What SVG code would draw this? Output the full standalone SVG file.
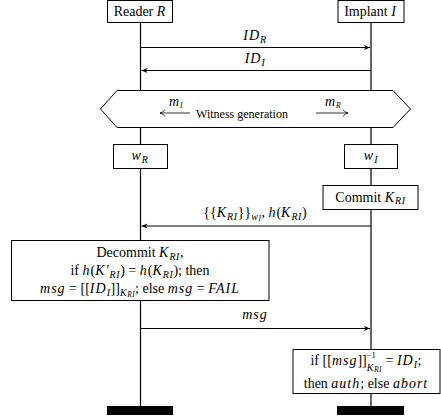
<svg xmlns="http://www.w3.org/2000/svg" width="441" height="419" viewBox="0 0 441 419">
  <style>
    .t { font-family: "Liberation Serif", "Times New Roman", serif; font-size: 14px; fill: #000; }
    .i { font-style: italic; letter-spacing: 1px; }
    .s { font-size: 10px; font-style: italic; letter-spacing: 0.6px; }
    .ss { font-size: 7.5px; font-style: italic; letter-spacing: 0.4px; }
    .sup { font-size: 8.5px; }
    .box { fill: #fff; stroke: #000; stroke-width: 1; }
    .life { stroke: #000; stroke-width: 1.2; fill: none; }
    .msg { stroke: #000; stroke-width: 1; fill: none; marker-end: url(#head); }
    .bar { fill: #000; }
  </style>
  <defs>
    <marker id="head" markerWidth="7" markerHeight="6" refX="6" refY="3" orient="auto" markerUnits="userSpaceOnUse">
      <path d="M0,0.5 L6,3 L0,5.5 L1.6,3 Z" fill="#000"/>
    </marker>
    <marker id="hook" markerWidth="7" markerHeight="8" refX="6" refY="4" orient="auto" markerUnits="userSpaceOnUse">
      <path d="M1,0.8 Q3.5,3.4 6,4 Q3.5,4.6 1,7.2" fill="none" stroke="#000" stroke-width="0.8"/>
    </marker>
  </defs>

  <!-- lifelines -->
  <g id="lifelines">
    <line class="life" x1="140.5" y1="23" x2="140.5" y2="406"/>
    <line class="life" x1="371" y1="23" x2="371" y2="406"/>
  </g>

  <!-- messages -->
  <g id="connectors">
    <line class="msg" x1="140.5" y1="47.5" x2="370" y2="47.5"/>
    <line class="msg" x1="371" y1="70.5" x2="141.5" y2="70.5"/>
    <line class="msg" x1="371" y1="226" x2="141.5" y2="226"/>
    <line class="msg" x1="140.5" y1="328.5" x2="370" y2="328.5"/>
  </g>

  <g id="labels">
    <text class="t" x="255" y="40" text-anchor="middle"><tspan class="i">ID</tspan><tspan class="s" dy="2.5">R</tspan></text>
    <text class="t" x="255" y="63" text-anchor="middle"><tspan class="i">ID</tspan><tspan class="s" dy="2.5">I</tspan></text>
    <text class="t" x="255" y="217" text-anchor="middle">{{<tspan class="i">K</tspan><tspan class="s" dy="2.5">RI</tspan><tspan dy="-2.5">}}</tspan><tspan class="s" dy="2.5">w</tspan><tspan class="ss" dy="1.5">I</tspan><tspan dy="-4">, </tspan><tspan class="i">h</tspan>(<tspan class="i">K</tspan><tspan class="s" dy="2.5">RI</tspan><tspan dy="-2.5">)</tspan></text>
    <text class="t i" x="255" y="319" text-anchor="middle">msg</text>
  </g>

  <!-- participants -->
  <g id="reader">
    <rect class="box" x="107.5" y="0.5" width="65" height="22"/>
    <text class="t" x="140" y="16" text-anchor="middle">Reader <tspan class="i">R</tspan></text>
  </g>
  <g id="implant">
    <rect class="box" x="338" y="0.5" width="66" height="22"/>
    <text class="t" x="370.5" y="16" text-anchor="middle">Implant <tspan class="i">I</tspan></text>
  </g>

  <!-- shared witness generation step -->
  <g id="witness">
    <path class="box" d="M100.5,109 L117,90.5 L393,90.5 L410.5,109 L393,127.5 L117,127.5 Z"/>
    <text class="t" x="242" y="117.5" text-anchor="middle" style="font-size:12px">Witness generation</text>
    <line x1="190" y1="113" x2="160" y2="113" stroke="#000" stroke-width="0.8" marker-end="url(#hook)"/>
    <text class="t" x="176" y="106" text-anchor="middle"><tspan class="i">m</tspan><tspan class="ss" dy="1.5">I</tspan></text>
    <line x1="316" y1="113" x2="348" y2="113" stroke="#000" stroke-width="0.8" marker-end="url(#hook)"/>
    <text class="t" x="333" y="106" text-anchor="middle"><tspan class="i">m</tspan><tspan class="ss" dy="1.5">R</tspan></text>
  </g>

  <g id="wR">
    <rect class="box" x="113.5" y="144.5" width="54" height="24"/>
    <text class="t" x="140" y="160" text-anchor="middle"><tspan class="i">w</tspan><tspan class="s" dy="2.5">R</tspan></text>
  </g>
  <g id="wI">
    <rect class="box" x="344.5" y="144.5" width="53" height="24"/>
    <text class="t" x="371" y="160" text-anchor="middle"><tspan class="i">w</tspan><tspan class="s" dy="2.5">I</tspan></text>
  </g>

  <g id="commit">
    <rect class="box" x="323" y="185.5" width="95" height="24"/>
    <text class="t" x="370.5" y="201.5" text-anchor="middle">Commit <tspan class="i">K</tspan><tspan class="s" dy="2.5">RI</tspan></text>
  </g>

  <g id="decommit">
    <rect class="box" x="11.5" y="240.5" width="257.5" height="60"/>
    <text class="t" x="140" y="257" text-anchor="middle">Decommit <tspan class="i">K</tspan><tspan class="s" dy="2.5">RI</tspan><tspan dy="-2.5">,</tspan></text>
    <text class="t" x="140" y="275" text-anchor="middle">if <tspan class="i">h</tspan>(<tspan class="i">K′</tspan><tspan class="s" dy="2.5">RI</tspan><tspan dy="-2.5">) = </tspan><tspan class="i">h</tspan>(<tspan class="i">K</tspan><tspan class="s" dy="2.5">RI</tspan><tspan dy="-2.5">); then</tspan></text>
    <text class="t" x="140" y="293" text-anchor="middle"><tspan class="i">msg</tspan> = [[<tspan class="i">ID</tspan><tspan class="s" dy="2.5">I</tspan><tspan dy="-2.5">]]</tspan><tspan class="s" dy="2.5">K</tspan><tspan class="ss" dy="1.5">RI</tspan><tspan dy="-4">; else </tspan><tspan class="i">msg</tspan> = <tspan class="i">FAIL</tspan></text>
  </g>

  <g id="verify">
    <rect class="box" x="293" y="349.5" width="147" height="44"/>
    <text class="t" x="366" y="365" text-anchor="middle">if [[<tspan class="i">msg</tspan>]]<tspan class="sup" dy="-7.5">−1</tspan><tspan class="s" dy="13" dx="-9">K</tspan><tspan class="ss" dy="1.5">RI</tspan><tspan dy="-7"> = </tspan><tspan class="i">ID</tspan><tspan class="s" dy="2.5">I</tspan><tspan dy="-2.5">;</tspan></text>
    <text class="t" x="366" y="387.5" text-anchor="middle">then <tspan class="i">auth</tspan>; else <tspan class="i">abort</tspan></text>
  </g>

  <!-- lifeline ends -->
  <g id="ends">
    <rect class="bar" x="107" y="406" width="66" height="9"/>
    <rect class="bar" x="337" y="406" width="67" height="9"/>
  </g>
</svg>
